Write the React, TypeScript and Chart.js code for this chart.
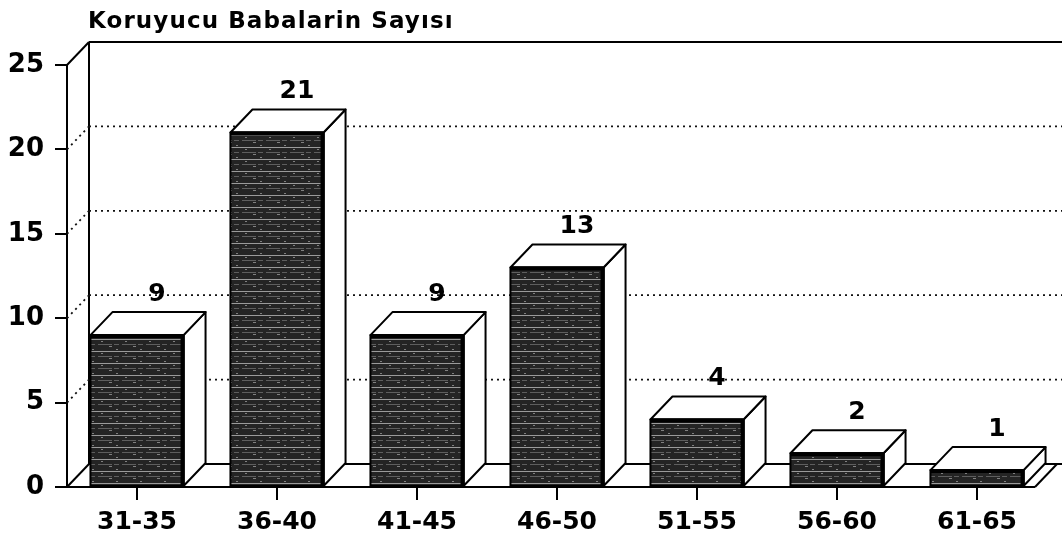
import React, { useEffect, useRef } from "react";
import { Chart, registerables } from "chart.js";

Chart.register(...registerables);

const categories = ["31-35", "36-40", "41-45", "46-50", "51-55", "56-60", "61-65"];
const counts = [9, 21, 9, 13, 4, 2, 1];
const yTicks = [0, 5, 10, 15, 20, 25];
const titleText = "Koruyucu Babalarin Sayısı";

const DX = 22;
const DY = -23;

function makePattern(): CanvasPattern | string {
  const c = document.createElement("canvas");
  c.width = 24;
  c.height = 12;
  const g = c.getContext("2d");
  if (!g) return "#333";
  g.fillStyle = "#242424";
  g.fillRect(0, 0, 24, 12);
  g.fillStyle = "#9a9a9a";
  g.fillRect(0, 3, 24, 1);
  g.fillStyle = "#5e5e5e";
  g.fillRect(2, 8, 14, 1);
  g.fillRect(18, 8, 5, 1);
  g.fillStyle = "#808080";
  g.fillRect(5, 5, 2, 1);
  g.fillRect(13, 10, 3, 1);
  g.fillRect(20, 1, 2, 1);
  return g.createPattern(c, "repeat") || "#333";
}

const depthPlugin = {
  id: "depth3d",
  beforeDatasetsDraw(chart: any) {
    const { ctx, chartArea: a, scales } = chart;
    const y = scales.y;
    const top = y.getPixelForValue(25);
    const bot = y.getPixelForValue(0);
    const W = chart.width;
    const line = (x1: number, y1: number, x2: number, y2: number) => {
      ctx.beginPath();
      ctx.moveTo(x1, y1);
      ctx.lineTo(x2, y2);
      ctx.stroke();
    };
    ctx.save();
    ctx.strokeStyle = "#000";
    ctx.lineWidth = 2;
    line(a.left, top, a.left + DX, top + DY);
    line(a.left + DX, top + DY, W, top + DY);
    line(a.left + DX, top + DY, a.left + DX, bot + DY);
    line(a.left, bot, a.left + DX, bot + DY);
    line(a.left + DX, bot + DY, W, bot + DY);
    const fr = a.right - 12;
    line(a.left, bot, fr, bot);
    line(fr, bot, fr + DX, bot + DY);
    ctx.setLineDash([2, 4]);
    ctx.lineWidth = 1.8;
    ctx.strokeStyle = "#111";
    for (const v of yTicks) {
      if (v <= 0 || v >= 25) continue;
      const yy = y.getPixelForValue(v);
      line(a.left, yy, a.left + DX, yy + DY);
      line(a.left + DX, yy + DY, W, yy + DY);
    }
    ctx.restore();
  },
  afterDatasetsDraw(chart: any) {
    const { ctx } = chart;
    const meta = chart.getDatasetMeta(0);
    ctx.save();
    ctx.strokeStyle = "#000";
    ctx.lineWidth = 2;
    ctx.lineJoin = "round";
    meta.data.forEach((bar: any, i: number) => {
      const l = bar.x - bar.width / 2;
      const r = bar.x + bar.width / 2;
      const t = bar.y;
      const b = bar.base;
      ctx.fillStyle = "#fff";
      ctx.beginPath();
      ctx.moveTo(r, t);
      ctx.lineTo(r + DX, t + DY);
      ctx.lineTo(r + DX, b + DY);
      ctx.lineTo(r, b);
      ctx.closePath();
      ctx.fill();
      ctx.stroke();
      ctx.beginPath();
      ctx.moveTo(l, t);
      ctx.lineTo(l + DX, t + DY);
      ctx.lineTo(r + DX, t + DY);
      ctx.lineTo(r, t);
      ctx.closePath();
      ctx.fill();
      ctx.stroke();
      ctx.strokeRect(l, t, r - l, b - t);
      ctx.lineWidth = 4;
      ctx.beginPath();
      ctx.moveTo(l, t + 1);
      ctx.lineTo(r - 1, t + 1);
      ctx.lineTo(r - 1, b);
      ctx.stroke();
      ctx.lineWidth = 2;
      ctx.fillStyle = "#000";
      ctx.font = 'bold 25px "DejaVu Sans"';
      ctx.textAlign = "center";
      ctx.textBaseline = "middle";
      ctx.fillText(String(counts[i]), bar.x + DX - 2, t + DY - 18);
    });
    ctx.fillStyle = "#000";
    ctx.font = 'bold 23px "DejaVu Sans"';
    (ctx as any).letterSpacing = "1.1px";
    ctx.textAlign = "left";
    ctx.textBaseline = "alphabetic";
    ctx.fillText(titleText, 88, 28);
    (ctx as any).letterSpacing = "0px";
    ctx.restore();
  },
};

export default function App() {
  const ref = useRef<HTMLCanvasElement | null>(null);
  useEffect(() => {
    if (!ref.current) return;
    Chart.defaults.font.family = '"DejaVu Sans"';
    const chart = new Chart(ref.current, {
      type: "bar",
      data: {
        labels: categories,
        datasets: [
          {
            data: counts,
            backgroundColor: makePattern() as any,
            borderWidth: 0,
            categoryPercentage: 1,
            barPercentage: 0.665,
          },
        ],
      },
      options: {
        animation: false,
        responsive: false,
        devicePixelRatio: 1,
        layout: { padding: { left: 0, top: 65, right: 15, bottom: 0 } },
        plugins: { legend: { display: false }, tooltip: { enabled: false } },
        scales: {
          x: {
            grid: {
              display: true,
              drawOnChartArea: false,
              drawTicks: true,
              tickLength: 13,
              offset: false,
              color: "#000",
              lineWidth: 2,
            },
            border: { display: false },
            ticks: {
              color: "#000",
              font: { size: 25, weight: "bold", family: '"DejaVu Sans"' },
              padding: 7,
              maxRotation: 0,
            },
            afterFit: (s: any) => {
              s.height = 55;
            },
          },
          y: {
            min: 0,
            max: 25,
            grid: {
              display: true,
              drawOnChartArea: false,
              drawTicks: true,
              tickLength: 12,
              color: "#000",
              lineWidth: 2,
            },
            border: { display: true, color: "#000", width: 2 },
            ticks: {
              stepSize: 5,
              color: "#000",
              font: { size: 26, weight: "bold", family: '"DejaVu Sans"' },
              padding: 11,
            },
            afterFit: (s: any) => {
              s.width = 67;
            },
          },
        },
      },
      plugins: [depthPlugin],
    });
    return () => chart.destroy();
  }, []);
  return (
    <div style={{ position: "absolute", left: 0, top: 0, width: 1062, height: 542, background: "#fff" }}>
      <canvas ref={ref} width={1062} height={542} />
    </div>
  );
}
